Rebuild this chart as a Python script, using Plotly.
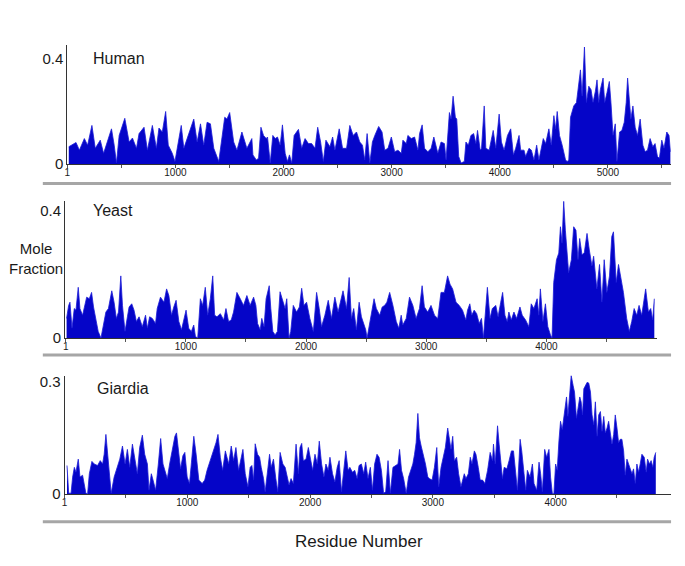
import plotly.graph_objects as go

# ---------------- data (residue number, mole fraction) ----------------
human_pos = [14, 81, 112, 158, 188, 228, 259, 305, 336, 363, 409, 434, 455, 480, 532, 572, 603, 640, 664, 710,
             741, 787, 824, 848, 879, 910, 934, 971, 996, 1017, 1054, 1078, 1124, 1170, 1201, 1232, 1262, 1293, 1324, 1355,
             1401, 1431, 1456, 1477, 1502, 1539, 1569, 1615, 1661, 1707,
             1717, 1748, 1769, 1791, 1815, 1840, 1852, 1877, 1901, 1923, 1944, 1969, 1990, 2015, 2036, 2055, 2076, 2098, 2138, 2168,
             2199, 2230, 2260, 2291, 2316, 2343, 2368, 2392, 2429, 2454, 2475, 2515, 2546, 2583, 2613, 2644, 2675, 2705, 2730, 2751,
             2773, 2798, 2822, 2844, 2880, 2911, 2936, 2966, 2997, 3028, 3058, 3089, 3104, 3135, 3150, 3181, 3212, 3243, 3258, 3282,
             3304, 3335, 3365, 3390, 3427, 3457, 3488, 3503, 3534, 3549, 3568, 3589, 3602, 3620, 3642, 3672,
             3687, 3709, 3733, 3758, 3779, 3794, 3819, 3831, 3856, 3871, 3902, 3939, 3963, 3994, 4015, 4040, 4071, 4101, 4126, 4147,
             4178, 4193, 4224, 4239, 4270, 4292, 4316, 4341, 4362, 4402, 4424, 4454, 4476, 4500, 4516, 4531, 4552, 4577, 4608, 4623,
             4638, 4654, 4684, 4709, 4730, 4746, 4761, 4783, 4801, 4823, 4844, 4862, 4884, 4899, 4915, 4930, 4955, 4970, 4991, 5013,
             5028, 5047, 5068, 5083, 5108, 5129, 5151, 5169, 5182, 5197, 5212, 5231, 5252, 5274, 5298, 5323, 5344, 5366, 5390, 5415,
             5436, 5458, 5476, 5498, 5519, 5544, 5565, 5578]
human_val = [0.066, 0.082, 0.053, 0.097, 0.072, 0.147, 0.06, 0.091, 0.041, 0.078, 0.134, 0.072, 0.004, 0.109, 0.174, 0.084, 0.099, 0.06, 0.116, 0.14,
             0.053, 0.147, 0.06, 0.137, 0.122, 0.2, 0.072, 0.041, 0.01, 0.06, 0.147, 0.06, 0.116, 0.171, 0.084, 0.153, 0.072, 0.159, 0.153, 0.06,
             0.01, 0.109, 0.178, 0.171, 0.196, 0.084, 0.053, 0.122, 0.06, 0.097,
             0.035, 0.016, 0.022, 0.14, 0.109, 0.097, 0.103, 0.004, 0.109, 0.097, 0.103, 0.072, 0.149, 0.041, 0.01, 0.035, 0.004, 0.109, 0.132, 0.06,
             0.097, 0.078, 0.078, 0.06, 0.14, 0.084, 0.01, 0.091, 0.066, 0.103, 0.053, 0.134, 0.06, 0.06, 0.147, 0.109, 0.122, 0.084, 0.072, 0.016,
             0.116, 0.004, 0.084, 0.109, 0.143, 0.122, 0.053, 0.06, 0.103, 0.047, 0.053, 0.041, 0.091, 0.078, 0.109, 0.097, 0.103, 0.053, 0.116, 0.149,
             0.06, 0.047, 0.06, 0.103, 0.041, 0.084, 0.078, 0.016, 0.196, 0.171, 0.258, 0.178, 0.171, 0.029, 0.004, 0.01,
             0.084, 0.072, 0.109, 0.116, 0.078, 0.128, 0.053, 0.06, 0.221, 0.06, 0.053, 0.128, 0.06, 0.19, 0.084, 0.053, 0.109, 0.134, 0.035, 0.06,
             0.109, 0.053, 0.053, 0.029, 0.06, 0.053, 0.016, 0.072, 0.016, 0.097, 0.078, 0.134, 0.072, 0.184, 0.134, 0.2, 0.109, 0.072, 0.016, 0.01,
             0.016, 0.178, 0.221, 0.234, 0.296, 0.358, 0.258, 0.445, 0.234, 0.296, 0.283, 0.234, 0.277, 0.32, 0.234, 0.283, 0.327, 0.234, 0.271, 0.314,
             0.234, 0.109, 0.153, 0.01, 0.122, 0.128, 0.159, 0.234, 0.327, 0.234, 0.171, 0.221, 0.14, 0.109, 0.171, 0.072, 0.047, 0.053, 0.097, 0.066,
             0.078, 0.029, 0.022, 0.091, 0.06, 0.122, 0.109, 0.047]

yeast_pos = [8, 25, 36, 53, 72, 86, 105, 119, 141, 160, 175, 197, 216, 232, 251, 271, 294, 313, 335, 356,
             384, 403, 422, 440, 459, 473, 494, 514, 528, 550, 569, 589, 611, 638, 665, 680, 699, 721, 748, 762,
             789, 818, 840, 859, 881, 900, 919, 942, 964, 983, 1002, 1024, 1046, 1066, 1080, 1099, 1121, 1140, 1162, 1182,
             1204, 1224, 1240, 1259, 1287, 1315, 1334, 1356, 1378, 1397, 1425, 1453, 1480, 1508, 1535,
             1564, 1583, 1597, 1619, 1632, 1651, 1668, 1694, 1707, 1724, 1743, 1762, 1784, 1807, 1826, 1840, 1859, 1873, 1894, 1922,
             1945, 1964, 1983, 2005, 2032, 2061, 2088, 2110, 2129, 2157, 2185, 2212, 2240, 2267, 2286, 2308, 2337, 2359, 2378, 2397,
             2419, 2442, 2461, 2480, 2497, 2508, 2529, 2566, 2585, 2613, 2634, 2654, 2673, 2696, 2723, 2751, 2772, 2792, 2805, 2834,
             2861, 2889, 2916, 2944, 2966, 2985, 3013, 3040, 3069, 3096, 3123, 3151, 3178, 3198, 3220, 3248, 3275, 3302,
             3330, 3344, 3363, 3379, 3399, 3420, 3441, 3460, 3476, 3495, 3509, 3531, 3550, 3579, 3598, 3620, 3636, 3655, 3674, 3688,
             3708, 3730, 3752, 3780, 3799, 3827, 3854, 3874, 3896, 3923, 3937, 3950, 3971, 3992, 4012, 4034, 4047, 4061, 4084, 4103,
             4117, 4130, 4144, 4158, 4171, 4185, 4208, 4227, 4246, 4263, 4277, 4296, 4315, 4338, 4357, 4379, 4393, 4406, 4420, 4442,
             4462, 4481, 4503, 4525, 4544, 4558, 4581, 4600, 4619, 4641, 4668, 4690, 4710, 4730, 4752, 4771, 4793, 4807, 4826, 4849,
             4868, 4884, 4898]
yeast_val = [0.062, 0.103, 0.113, 0.031, 0.093, 0.088, 0.16, 0.093, 0.072, 0.108, 0.129, 0.124, 0.144, 0.098, 0.062, 0.021, 0.0, 0.041, 0.082, 0.093,
             0.149, 0.113, 0.062, 0.082, 0.196, 0.103, 0.021, 0.067, 0.098, 0.108, 0.088, 0.052, 0.067, 0.036, 0.072, 0.031, 0.067, 0.062, 0.046, 0.093,
             0.129, 0.113, 0.155, 0.134, 0.072, 0.098, 0.119, 0.052, 0.026, 0.057, 0.088, 0.031, 0.021, 0.041, 0.005, 0.0, 0.124, 0.103, 0.16, 0.072,
             0.124, 0.196, 0.072, 0.067, 0.077, 0.057, 0.093, 0.052, 0.057, 0.082, 0.144, 0.124, 0.103, 0.134, 0.103,
             0.129, 0.103, 0.046, 0.026, 0.062, 0.036, 0.124, 0.165, 0.093, 0.021, 0.01, 0.021, 0.146, 0.113, 0.093, 0.124, 0.0, 0.021, 0.103, 0.082,
             0.098, 0.157, 0.103, 0.113, 0.062, 0.021, 0.144, 0.093, 0.036, 0.072, 0.119, 0.062, 0.129, 0.082, 0.113, 0.149, 0.093, 0.191, 0.062, 0.093,
             0.026, 0.113, 0.067, 0.041, 0.026, 0.0, 0.041, 0.124, 0.093, 0.072, 0.098, 0.103, 0.113, 0.144, 0.103, 0.052, 0.031, 0.072, 0.041, 0.062,
             0.129, 0.103, 0.062, 0.093, 0.165, 0.098, 0.082, 0.103, 0.072, 0.062, 0.144, 0.144, 0.196, 0.17, 0.155, 0.113, 0.103, 0.088,
             0.057, 0.088, 0.108, 0.072, 0.088, 0.077, 0.046, 0.062, 0.0, 0.082, 0.16, 0.062, 0.093, 0.103, 0.067, 0.113, 0.144, 0.072, 0.052, 0.082,
             0.057, 0.082, 0.062, 0.098, 0.072, 0.057, 0.036, 0.108, 0.093, 0.124, 0.072, 0.155, 0.052, 0.108, 0.036, 0.01, 0.0, 0.175, 0.247, 0.268,
             0.351, 0.299, 0.431, 0.34, 0.268, 0.206, 0.247, 0.351, 0.34, 0.247, 0.314, 0.263, 0.268, 0.33, 0.278, 0.227, 0.258, 0.196, 0.155, 0.232,
             0.113, 0.247, 0.144, 0.196, 0.32, 0.335, 0.175, 0.232, 0.196, 0.144, 0.062, 0.021, 0.052, 0.093, 0.072, 0.103, 0.072, 0.103, 0.155, 0.082,
             0.093, 0.057, 0.124]

giardia_pos = [20, 34, 53, 66, 80, 93, 112, 126, 147, 161, 174, 188, 202, 223, 242, 269, 291, 310, 323, 337,
               350, 364, 380, 404, 423, 450, 472, 493, 512, 531, 553, 575, 593, 612, 634, 653, 675, 688, 707, 721,
               742, 764, 783, 802, 818, 837, 856, 877, 899, 912, 926, 945, 964, 980, 999, 1018, 1034, 1053, 1072, 1094,
               1121, 1142, 1161, 1188, 1215, 1234, 1250, 1269, 1288, 1310, 1337, 1358, 1377, 1396, 1418, 1439, 1453, 1472, 1494, 1512,
               1526, 1540, 1553, 1572, 1589, 1602, 1621, 1634, 1653, 1670, 1683, 1702, 1721, 1737, 1756, 1778, 1797, 1810, 1829, 1845,
               1864, 1886, 1905, 1918, 1932, 1945, 1967, 1986, 2005, 2021, 2040, 2059, 2075, 2094, 2113, 2129, 2148, 2162, 2183, 2202,
               2221, 2237, 2256, 2275, 2291, 2310, 2324, 2345, 2364, 2383, 2399, 2418, 2437, 2453, 2472, 2491, 2508, 2526, 2545, 2562,
               2581, 2599, 2616, 2635, 2654, 2675, 2697, 2716, 2729, 2745, 2762, 2783, 2802, 2824, 2837, 2851, 2864, 2878, 2891, 2905,
               2924, 2940, 2959, 2972, 2994, 3013, 3032, 3048, 3067, 3086, 3102, 3121, 3135, 3148, 3162, 3175, 3194, 3210, 3229, 3256,
               3270, 3289, 3305, 3319, 3338, 3351, 3370, 3386, 3405, 3424, 3446, 3467, 3486, 3494, 3508, 3527, 3540, 3554, 3567, 3581,
               3603, 3621, 3640, 3657, 3675, 3689, 3711, 3724, 3743, 3757, 3770, 3792, 3811, 3824, 3846, 3865, 3878, 3892, 3911, 3927,
               3946, 3959, 3973, 3986, 4000, 4013, 4027, 4040, 4054, 4067, 4081, 4089, 4100, 4116, 4127, 4143, 4154, 4170, 4181, 4197,
               4208, 4219, 4230, 4243, 4257, 4270, 4284, 4297, 4311, 4324, 4338, 4351, 4365, 4378, 4392, 4405, 4419, 4432, 4446, 4459,
               4473, 4486, 4500, 4513, 4527, 4540, 4554, 4567, 4581, 4595, 4608, 4622, 4635, 4649, 4662, 4676, 4689, 4703, 4722, 4738,
               4749, 4765, 4778, 4792, 4803, 4816]
giardia_val = [0.076, 0.002, 0.002, 0.045, 0.071, 0.058, 0.093, 0.045, 0.05, 0.028, 0.002, 0.0, 0.054, 0.087, 0.08, 0.076, 0.089, 0.08, 0.106, 0.159,
               0.115, 0.054, 0.002, 0.045, 0.063, 0.093, 0.128, 0.08, 0.119, 0.071, 0.133, 0.093, 0.054, 0.124, 0.157, 0.106, 0.08, 0.01, 0.054, 0.037,
               0.01, 0.08, 0.148, 0.08, 0.063, 0.041, 0.08, 0.115, 0.154, 0.163, 0.115, 0.067, 0.102, 0.111, 0.045, 0.028, 0.085, 0.154, 0.106, 0.037,
               0.028, 0.037, 0.063, 0.089, 0.115, 0.137, 0.159, 0.098, 0.063, 0.115, 0.08, 0.128, 0.089, 0.124, 0.063, 0.098, 0.119, 0.054, 0.019, 0.071,
               0.076, 0.037, 0.134, 0.106, 0.098, 0.071, 0.041, 0.006, 0.067, 0.106, 0.071, 0.093, 0.041, 0.006, 0.111, 0.08, 0.071, 0.054, 0.024, 0.041,
               0.028, 0.133, 0.054, 0.124, 0.135, 0.089, 0.093, 0.124, 0.089, 0.063, 0.106, 0.08, 0.141, 0.08, 0.045, 0.08, 0.063, 0.098, 0.054, 0.032,
               0.071, 0.089, 0.006, 0.063, 0.115, 0.063, 0.071, 0.058, 0.063, 0.041, 0.076, 0.08, 0.054, 0.085, 0.041, 0.071, 0.01, 0.08, 0.106, 0.098,
               0.063, 0.002, 0.006, 0.089, 0.002, 0.071, 0.076, 0.08, 0.119, 0.063, 0.041, 0.002, 0.045, 0.071, 0.08, 0.106, 0.137, 0.215, 0.15, 0.128,
               0.102, 0.08, 0.045, 0.041, 0.037, 0.071, 0.124, 0.019, 0.071, 0.106, 0.124, 0.176, 0.141, 0.119, 0.154, 0.089, 0.098, 0.054, 0.019, 0.054,
               0.041, 0.054, 0.098, 0.08, 0.115, 0.106, 0.071, 0.037, 0.037, 0.028, 0.063, 0.111, 0.089, 0.133, 0.08, 0.182, 0.133, 0.08, 0.041, 0.071,
               0.067, 0.089, 0.115, 0.115, 0.045, 0.01, 0.146, 0.115, 0.054, 0.01, 0.063, 0.045, 0.08, 0.028, 0.01, 0.085, 0.054, 0.006, 0.119, 0.098,
               0.119, 0.045, 0.002, 0.0, 0.08, 0.063, 0.141, 0.194, 0.172, 0.202, 0.228, 0.259, 0.207, 0.276, 0.316, 0.289, 0.272, 0.202, 0.224, 0.259,
               0.246, 0.211, 0.281, 0.289, 0.298, 0.296, 0.272, 0.211, 0.185, 0.246, 0.154, 0.211, 0.22, 0.167, 0.207, 0.163, 0.176, 0.194, 0.154, 0.133,
               0.159, 0.211, 0.176, 0.137, 0.146, 0.146, 0.115, 0.05, 0.093, 0.08, 0.063, 0.054, 0.067, 0.028, 0.08, 0.058, 0.08, 0.106, 0.098, 0.058,
               0.093, 0.08, 0.089, 0.071, 0.098, 0.111]

panel_names = ["Human", "Yeast", "Giardia"]
ytick_vals = [[0, 0.4], [0, 0.4], [0, 0.3]]
ytick_text = [["0", "0.4"], ["0", "0.4"], ["0", "0.3"]]
x_ticks = [[1, 1000, 2000, 3000, 4000, 5000], [1, 1000, 2000, 3000, 4000], [1, 1000, 2000, 3000, 4000]]
x_max = [5582, 4918, 4938]
x_min = [0, -5, 0]
y_max = [0.452, 0.432, 0.316]

W, H = 685, 566
FONT = "Liberation Sans, Arial, Helvetica, sans-serif"
BLUE = "#0505c8"

# panel geometry in pixels: (left, right, top, bottom)
geom = [(64.55, 670.8, 43, 164.3), (62.3, 656.6, 202, 341.7), (61.8, 670.7, 380, 500.7)]

series = [(human_pos, human_val), (yeast_pos, yeast_val), (giardia_pos, giardia_val)]

fig = go.Figure()
layout = dict(width=W, height=H, margin=dict(l=0, r=0, t=0, b=0), autosize=False,
              paper_bgcolor="white", plot_bgcolor="white", showlegend=False,
              font=dict(family=FONT, color="#1a1a1a"))

annotations = []
shapes = []
for i, ((xs, ys), (l, r, t, b)) in enumerate(zip(series, geom)):
    n = "" if i == 0 else str(i + 1)
    fig.add_trace(go.Scatter(x=xs, y=ys, mode="lines", fill="tozeroy",
                             line=dict(color="#1c1cd8", width=0.8), fillcolor=BLUE,
                             xaxis="x" + n, yaxis="y" + n, hoverinfo="skip"))
    tv = [1]
    tt = ["1"]
    for k in range(500, int(x_max[i]) + 1, 500):
        tv.append(k)
        tt.append(str(k) if k in x_ticks[i] else "")
    layout["xaxis" + n] = dict(domain=[l / W, r / W], range=[x_min[i], x_max[i]], anchor="y" + n,
                               showgrid=False, zeroline=False, showline=True, linecolor="#333", linewidth=1,
                               tickmode="array", tickvals=tv, ticktext=tt, ticks="outside", ticklen=3,
                               tickcolor="#555", tickwidth=1, ticklabelstandoff=-4,
                               tickfont=dict(size=10, family=FONT, color="#1a1a1a"))
    layout["yaxis" + n] = dict(domain=[1 - b / H, 1 - t / H], range=[0, y_max[i]], anchor="x" + n,
                               showgrid=False, zeroline=False, showline=True, linecolor="#333", linewidth=1,
                               tickmode="array", tickvals=ytick_vals[i], ticktext=ytick_text[i], ticks="",
                               tickfont=dict(size=15, family=FONT, color="#1a1a1a"))

# panel titles
title_pos = [(88, 57), (88, 212), (92, 393)]
for name, (px, py) in zip(panel_names, title_pos):
    annotations.append(dict(text=name, x=px / W, y=1 - py / H, xref="paper", yref="paper",
                            xanchor="left", yanchor="middle", showarrow=False,
                            font=dict(size=16, family=FONT, color="#1a1a1a")))

annotations.append(dict(text="Mole<br>Fraction", x=33 / W, y=1 - 261 / H, xref="paper", yref="paper",
                        xanchor="center", yanchor="middle", showarrow=False, align="center",
                        font=dict(size=15, family=FONT, color="#1a1a1a")))
annotations.append(dict(text="Residue Number", x=358 / W, y=1 - 549 / H, xref="paper", yref="paper",
                        xanchor="center", yanchor="middle", showarrow=False,
                        font=dict(size=17, family=FONT, color="#1a1a1a")))

# grey separator bars under each panel
for sy in [184, 359, 529]:
    shapes.append(dict(type="line", xref="paper", yref="paper", x0=40 / W, x1=671 / W,
                       y0=1 - sy / H, y1=1 - sy / H, line=dict(color="#a6a6a6", width=3)))

layout["annotations"] = annotations
layout["shapes"] = shapes
fig.update_layout(**layout)
fig.write_html("out.html", config={"displayModeBar": False},
               post_script="document.body.style.margin='0';document.body.style.padding='0';"
                           "document.documentElement.style.overflow='hidden';")
